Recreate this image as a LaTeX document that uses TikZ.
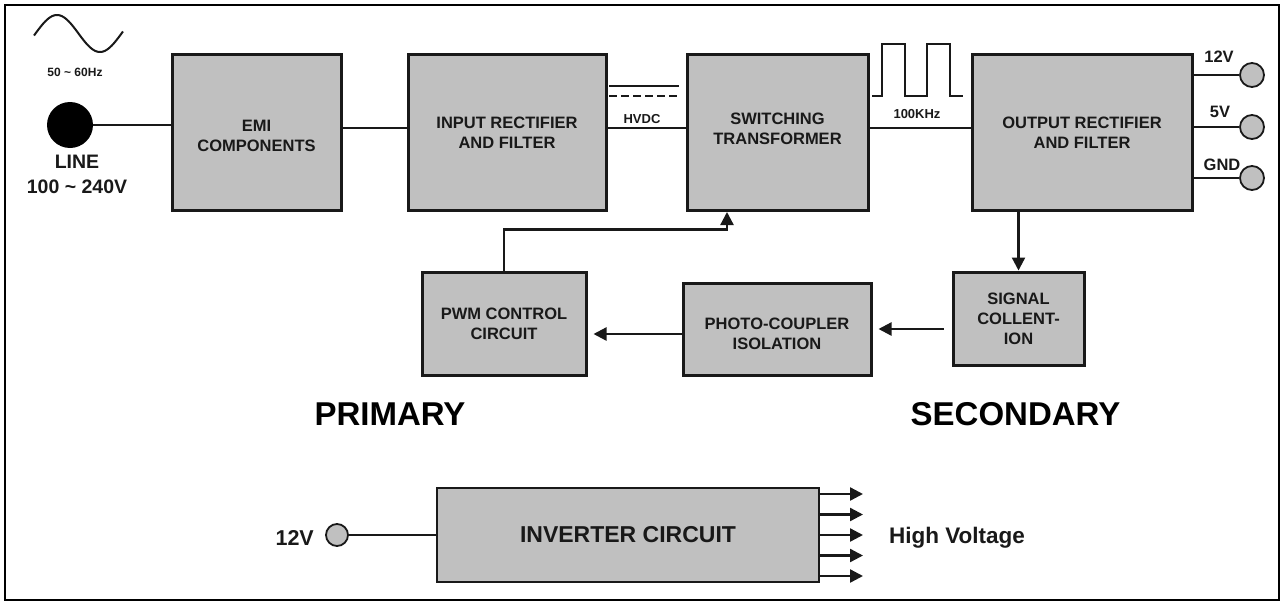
\documentclass[tikz,border=0pt]{standalone}
\usepackage{fontspec}
\setmainfont{Liberation Sans}
\usetikzlibrary{arrows.meta,calc}
\definecolor{boxgray}{RGB}{192,192,192}
\definecolor{ink}{RGB}{25,25,25}
\begin{document}
\begin{tikzpicture}[x=1pt,y=-1pt,
  blk/.style={draw=ink, fill=boxgray, line width=3pt, align=center, inner sep=0pt, text=ink,
    font=\fontsize{16.5}{20}\selectfont\bfseries},
  wire/.style={line width=2.3pt, draw=ink},
  arr/.style={line width=2.3pt, draw=ink, -{Triangle[length=13pt,width=13pt]}},
  term/.style={circle, draw=ink, fill=boxgray, line width=1.8pt, minimum size=24pt, inner sep=0pt},
  lbl/.style={font=\fontsize{16.5}{20}\selectfont\bfseries, inner sep=0pt, text=ink},
  small/.style={font=\fontsize{13}{15}\selectfont\bfseries, inner sep=0pt, text=ink},
  big/.style={font=\fontsize{33}{40}\selectfont\bfseries, inner sep=0pt, text=black},
]
\useasboundingbox (0,0) rectangle (1287,605);
\draw[line width=1.5pt] (5,5) rectangle (1279,600);

% top row boxes
\node[blk, minimum width=169pt, minimum height=156pt] (emi) at (256.5,132.5) {\mbox{}\\[-2pt]EMI\\COMPONENTS};
\node[blk, minimum width=198pt, minimum height=156pt] (inp) at (507,132.5) {INPUT RECTIFIER\\AND FILTER};
\node[blk, minimum width=181pt, minimum height=156pt] (sw) at (777.5,132.5) {SWITCHING\\TRANSFORMER\\[-12pt]};
\node[blk, minimum width=220pt, minimum height=156pt] (out) at (1082,132.5) {OUTPUT RECTIFIER\\AND FILTER};

% lower boxes
\node[blk, minimum width=164pt, minimum height=103pt] (pwm) at (504,323.5) {PWM CONTROL\\CIRCUIT};
\node[blk, minimum width=188pt, minimum height=92pt] (pho) at (777,329) {\mbox{}\\[2pt]PHOTO-COUPLER\\ISOLATION};
\node[blk, minimum width=131pt, minimum height=93pt] (sig) at (1018.5,318.5) {SIGNAL\\COLLENT-\\ION};

% AC source
\draw[line width=2pt, draw=ink] plot[domain=34:123, samples=80, smooth] (\x, {33.5-18.5*cos(4.186*(\x-57))});
\node[small, font=\fontsize{12}{14}\selectfont\bfseries, anchor=base] (hz) at (75,76) {50 \textasciitilde\ 60Hz};
\node[circle, fill=black, minimum size=46pt, inner sep=0pt] (line) at (70,125) {};
\node[align=center, inner sep=0pt, anchor=base, font=\fontsize{19.5}{25}\selectfont\bfseries, text=ink] (linelbl) at (77,193) {LINE\\100 \textasciitilde\ 240V};
\draw[wire] (line.east) -- (line.east -| emi.west);

% top connectors
\draw[wire] ([yshift=4.5pt]emi.east) -- ([yshift=4.5pt]inp.west);
\draw[wire] ([yshift=4.5pt]inp.east) -- ([yshift=4.5pt]sw.west);
\draw[wire] ([yshift=4.5pt]sw.east) -- ([yshift=4.5pt]out.west);

% HVDC symbol
\draw[line width=2.3pt, draw=ink] (609,86) -- (679,86);
\draw[line width=2.3pt, draw=ink, dash pattern=on 7.5pt off 4.5pt] (609,96) -- (679,96);
\node[small, anchor=base] (hvdc) at (642,123) {HVDC};

% square wave
\draw[line width=2.4pt, draw=ink] (872,96) -- (882,96) -- (882,44) -- (905,44) -- (905,96) -- (927,96) -- (927,44) -- (950,44) -- (950,96) -- (963,96);
\node[small, anchor=base] (khz) at (917,118) {100KHz};

% output terminals
\node[term] (t12) at (1252,75) {};
\node[term] (t5) at (1252,127) {};
\node[term] (tg) at (1252,178) {};
\draw[wire] (t12.west -| out.east) -- (t12.west);
\draw[wire] (t5.west -| out.east) -- (t5.west);
\draw[wire] (tg.west -| out.east) -- (tg.west);
\node[lbl, anchor=base] (l12) at (1219,62) {12V};
\node[lbl, anchor=base] (l5) at (1220,117) {5V};
\node[lbl, anchor=base] (lg) at (1222,170) {GND};

% feedback loop
\draw[arr] (sig.north |- out.south) -- (sig.north);
\draw[arr] ([xshift=-8pt]sig.west |- pho.east) -- ([xshift=6pt]pho.east);
\coordinate (pp) at ([yshift=-5pt]pho.west);
\path (pp -| pwm.east) coordinate (pq);
\draw[arr] (pp) -- ([xshift=6pt]pq);
\draw[arr] (pwm.north) -- ++(0,-41) -| ([xshift=-50.5pt]sw.south);

% side labels
\node[big, anchor=base] (prim) at (390,425) {PRIMARY};
\node[big, anchor=base] (sec) at (1015.5,425) {SECONDARY};

% inverter
\node[blk, line width=2pt, minimum width=382pt, minimum height=94pt, font=\fontsize{23}{26}\selectfont\bfseries] (inv) at (628,535) {INVERTER CIRCUIT};
\node[term, minimum size=22pt] (t12b) at (337,535) {};
\draw[wire, line width=1.8pt] (t12b.east) -- (inv.west);
\node[lbl, font=\fontsize{21.5}{24}\selectfont\bfseries, anchor=base east] (l12b) at (314,545) {12V};
\foreach \yy in {494,514.5,535,555.5,576}
  \draw[arr] (inv.east |- 0,\yy) -- ++(43,0);
\node[lbl, font=\fontsize{22.5}{26}\selectfont\bfseries, anchor=base] (hv) at (957,543) {High Voltage};
\end{tikzpicture}
\end{document}
